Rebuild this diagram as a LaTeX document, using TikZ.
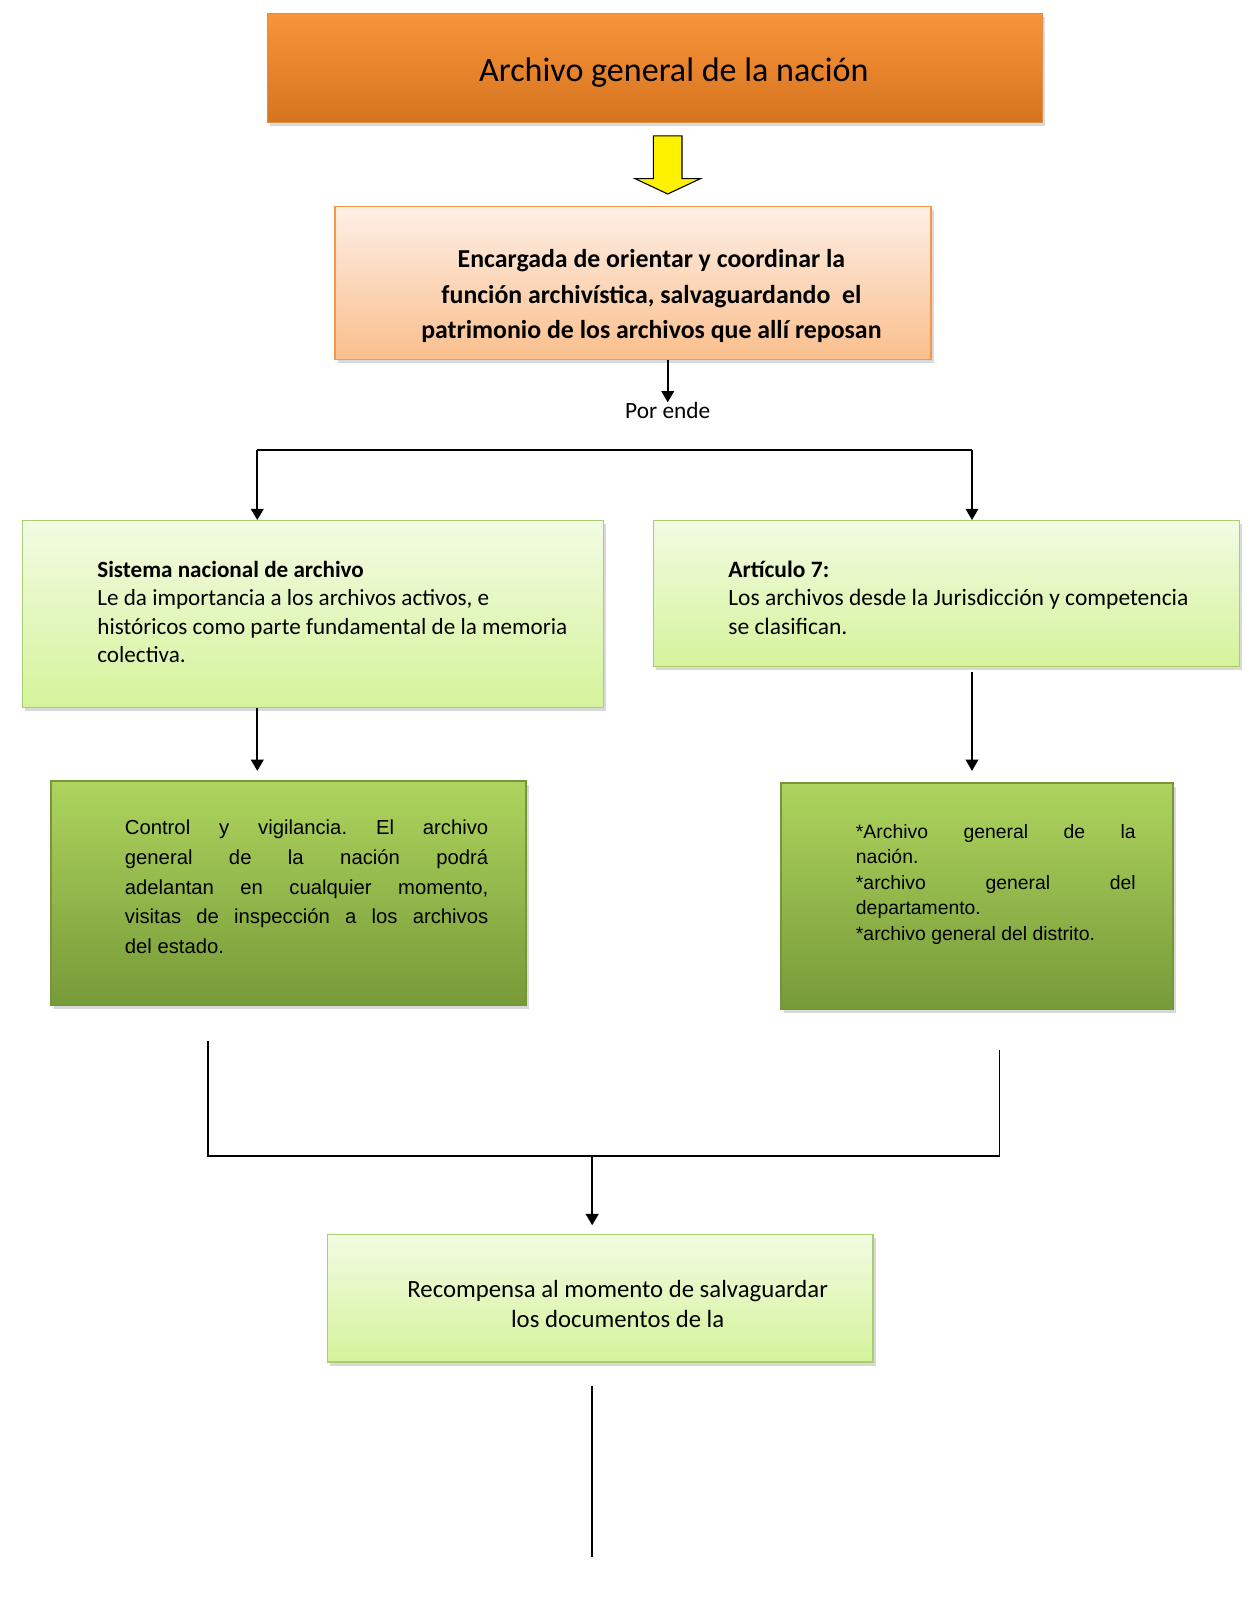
\documentclass[tikz,border=0pt]{standalone}
\usepackage{fontspec}
\setmainfont{Carlito}
\newfontfamily\arialfont{Liberation Sans}
\usetikzlibrary{arrows.meta}
\usetikzlibrary{shadows}
\usetikzlibrary{fit}
\definecolor{orangetop}{HTML}{F8953A}
\definecolor{orangebot}{HTML}{D6731F}
\definecolor{peachtop}{HTML}{FDEFE6}
\definecolor{peachbot}{HTML}{FABF8D}
\definecolor{peachline}{HTML}{F79646}
\definecolor{limetop}{HTML}{F2FBE2}
\definecolor{limebot}{HTML}{D5F39B}
\definecolor{limeline}{HTML}{A9CF70}
\definecolor{greentop}{HTML}{AED45E}
\definecolor{greenbot}{HTML}{779A38}
\definecolor{greenline}{HTML}{76963A}

\begin{document}
\frenchspacing
\begin{tikzpicture}[x=0.02cm,y=-0.02cm,
    box/.style={rectangle,inner sep=0pt,line width=0.8pt,
      drop shadow={shadow xshift=1.5pt,shadow yshift=-2pt,opacity=0.3}},
    titlebox/.style={box,draw=orangebot!80,top color=orangetop,bottom color=orangebot},
    peachbox/.style={box,draw=peachline,top color=peachtop,bottom color=peachbot},
    limebox/.style={box,draw=limeline,top color=limetop,bottom color=limebot},
    greenbox/.style={box,draw=greenline,top color=greentop,bottom color=greenbot},
    wire/.style={line width=0.9pt},
    tip/.style={wire,-{Triangle[length=2.2mm,width=2.5mm]}}]
  \useasboundingbox (0,0) rectangle (1223.3,1567.1);

  % boxes
  \node[titlebox, fit={(262,13) (1021,120)}] (archivo) {};
  \node[peachbox, fit={(328,202) (912,352)}] (encargada) {};
  \node[limebox, fit={(22,510) (591,693)}] (sistema) {};
  \node[limebox, fit={(640,510) (1214,653)}] (articulo) {};
  \node[greenbox, fit={(50,765) (515,985)}] (control) {};
  \node[greenbox, fit={(765,767) (1149,989)}] (clases) {};
  \node[limebox, fit={(321,1209) (855,1334)}] (recompensa) {};

  % texts
  \node[inner sep=0pt,font=\fontsize{19}{22}\selectfont] (archivoT) at (660,71) {Archivo general de la nación};
  \node[inner sep=0pt,align=center,font=\fontsize{14.4}{19.9}\selectfont\bfseries] (encargadaT) at (638,290)
    {Encargada de orientar y coordinar la\\ función archivística, salvaguardando\ \ el\\ patrimonio de los archivos que allí reposan};
  \node[inner sep=0pt,anchor=north,font=\fontsize{13}{15}\selectfont] (porende) at (654,394) {Por ende};
  \node[inner sep=0pt,anchor=north west,align=left,font=\fontsize{12.9}{15.9}\selectfont] (sistemaT) at (95,549)
    {\textbf{Sistema nacional de archivo}\\ Le da importancia a los archivos activos, e\\ históricos como parte fundamental de la memoria\\ colectiva.};
  \node[inner sep=0pt,anchor=north west,align=left,font=\fontsize{13.1}{15.9}\selectfont] (articuloT) at (713,549)
    {\textbf{Artículo 7:}\\ Los archivos desde la Jurisdicción y competencia\\ se clasifican.};
  \node[inner sep=0pt,anchor=north west,text width=7.12cm,align=justify,font=\arialfont\fontsize{11.3}{16.5}\selectfont] (controlT) at (122,803)
    {Control y vigilancia. El archivo\linebreak general de la nación podrá\linebreak adelantan en cualquier momento,\linebreak visitas de inspección a los archivos\linebreak del estado.};
  \node[inner sep=0pt,anchor=north west,text width=5.48cm,align=justify,font=\arialfont\fontsize{10.8}{14.2}\selectfont] (clasesT) at (838,807)
    {*Archivo general de la\linebreak nación.\\{}*archivo general del\linebreak departamento.\\{}*archivo general del distrito.};
  \node[inner sep=0pt,align=center,font=\fontsize{13.8}{17}\selectfont] (recompensaT) at (605,1277)
    {Recompensa al momento de salvaguardar\\ los documentos de la};

  % yellow arrow
  \draw[fill=yellow,line width=0.6pt] (640,133) -- (668,133) -- (668,175) -- (686,175)
    -- (654,190) -- (622,175) -- (640,175) -- cycle;

  % connectors
  \coordinate (splitL) at (252,441);
  \coordinate (splitR) at (952,441);
  \coordinate (toControl) at (252,755);
  \coordinate (toClases) at (952,755);
  \draw[tip] (encargada.south -| porende) -- (porende.north);
  \draw[wire] (splitL) -- (splitR);
  \draw[tip] (splitL) -- (splitL |- sistema.north);
  \draw[tip] (splitR) -- (splitR |- articulo.north);
  \draw[tip] (sistema.south -| toControl) -- (toControl);
  \draw[tip] (articulo.south -| toClases) ++(0,4) -- (toClases);
  \coordinate (joinL) at (204,1020);
  \coordinate (joinR) at (979,1028);
  \coordinate (joinM) at (580,1132);
  \coordinate (toRecompensa) at (580,1200);
  \draw[wire] (joinL) -- (joinL |- joinM) -- (joinR |- joinM) -- (joinR);
  \draw[tip] (joinM) -- (toRecompensa);
  \coordinate (tailTop) at (580,1357);
  \coordinate (tailEnd) at (580,1525);
  \draw[wire] (tailTop) -- (tailEnd);
\end{tikzpicture}
\end{document}
